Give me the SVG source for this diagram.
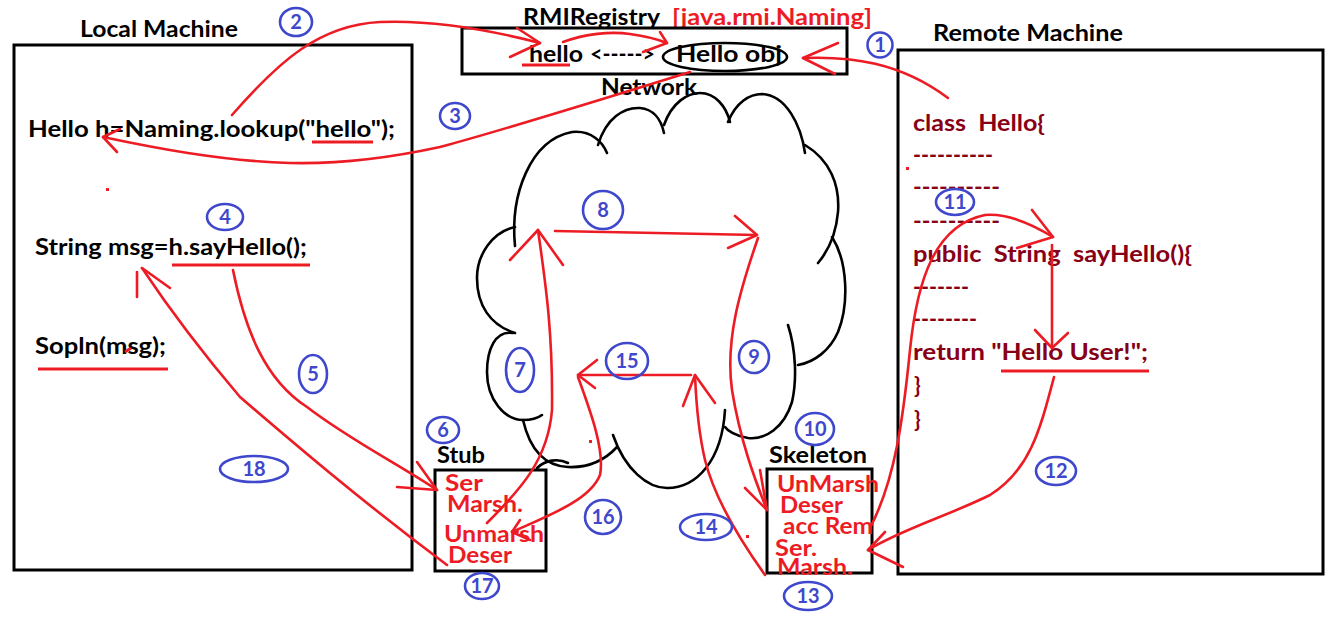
<svg xmlns="http://www.w3.org/2000/svg" width="1327" height="629" viewBox="0 0 1327 629">
<style>
  .box{fill:none;stroke:#000;stroke-width:3}
  .t{font-family:Lato,"Open Sans","Liberation Sans",sans-serif;font-weight:bold;font-size:22px;fill:#000;white-space:pre}
  .dr{fill:#880015}
  .rd{fill:#ED1C24}
  .ln{fill:none;stroke:#ED1C24;stroke-width:2.6;stroke-linecap:round;stroke-linejoin:round}
  .ul{stroke:#ED1C24;stroke-width:3}
  .cl{fill:none;stroke:#000;stroke-width:2.6;stroke-linecap:round}
  .num{fill:none;stroke:#3F48CC;stroke-width:2.6}
  .nt{font-family:Lato,"Open Sans","Liberation Sans",sans-serif;font-weight:bold;font-size:20px;fill:#3F48CC;text-anchor:middle}
</style>
<rect width="1327" height="629" fill="#fff"/>

<g id="local-machine">
  <rect class="box" x="14" y="45" width="398" height="525"/>
  <text class="t" x="80" y="37" textLength="158" lengthAdjust="spacingAndGlyphs">Local Machine</text>
  <text class="t" x="28" y="137" textLength="367" lengthAdjust="spacingAndGlyphs">Hello h=Naming.lookup("hello");</text>
  <text class="t" x="35" y="255" textLength="272" lengthAdjust="spacingAndGlyphs">String msg=h.sayHello();</text>
  <text class="t" x="35" y="354" textLength="131" lengthAdjust="spacingAndGlyphs">Sopln(msg);</text>
  <line class="ul" x1="312" y1="142" x2="373" y2="142"/>
  <line class="ul" x1="172" y1="265" x2="310" y2="265"/>
  <line class="ul" x1="38" y1="369" x2="168" y2="369"/>
  <rect x="106" y="188" width="3" height="3" fill="#ED1C24"/>
  <line class="ul" x1="125" y1="352" x2="131" y2="348" stroke-width="2"/>
</g>

<g id="registry">
  <text class="t" x="523" y="25" textLength="137" lengthAdjust="spacingAndGlyphs">RMIRegistry</text>
  <text class="t rd" x="672" y="25" textLength="200" lengthAdjust="spacingAndGlyphs">[java.rmi.Naming]</text>
  <rect class="box" x="462" y="28" width="385" height="46"/>
  <text class="t" x="529" y="62" textLength="54" lengthAdjust="spacingAndGlyphs">hello</text>
  <text class="t" x="590" y="62" textLength="65" lengthAdjust="spacingAndGlyphs">&lt;-----&gt;</text>
  <text class="t" x="676" y="62" textLength="106" lengthAdjust="spacingAndGlyphs">Hello obj</text>
  <ellipse cx="725" cy="57" rx="62" ry="14" fill="none" stroke="#000" stroke-width="2.6"/>
  <line class="ul" x1="522" y1="65" x2="570" y2="65"/>
</g>

<g id="network">
  <text class="t" x="601" y="95" textLength="96" lengthAdjust="spacingAndGlyphs">Network</text>
  <path class="cl" d="M515 246 C510 195 530 140 572 132 C592 130 603 143 607 153"/>
  <path class="cl" d="M598 145 C606 118 624 107 640 108 C653 109 661 119 664 133"/>
  <path class="cl" d="M664 125 C672 102 688 93 700 93 C715 93 726 106 730 122"/>
  <path class="cl" d="M728 122 C736 102 750 94 762 94 C786 95 801 125 805 153"/>
  <path class="cl" d="M805 145 C830 160 840 185 838 212 C836 235 829 250 818 263"/>
  <path class="cl" d="M832 237 C848 262 849 305 838 332 C830 350 815 362 798 365"/>
  <path class="cl" d="M788 325 C796 350 797 380 792 402 C784 428 765 440 748 438 C735 436 727 430 725 427"/>
  <path class="cl" d="M613 435 C625 470 648 488 667 488 C697 488 722 460 725 410"/>
  <path class="cl" d="M617 447 C605 460 590 468 568 467 C545 466 530 450 523 420"/>
  <path class="cl" d="M537 468 C545 460 558 458 568 463"/>
  <path class="cl" d="M513 333 C495 330 487 350 487 372 C487 400 505 420 523 420 C531 420 538 418 542 415"/>
  <path class="cl" d="M515 227 C492 232 477 255 477 278 C477 305 490 325 515 333"/>
</g>

<g id="remote-machine">
  <rect class="box" x="898" y="50" width="425" height="524"/>
  <text class="t" x="933" y="41" textLength="190" lengthAdjust="spacingAndGlyphs">Remote Machine</text>
  <text class="t dr" x="913" y="131" textLength="132" lengthAdjust="spacingAndGlyphs" xml:space="preserve">class  Hello{</text>
  <text class="t dr" x="913" y="163" textLength="80" lengthAdjust="spacingAndGlyphs">----------</text>
  <text class="t dr" x="913" y="195" textLength="87" lengthAdjust="spacingAndGlyphs">----------</text>
  <text class="t dr" x="913" y="229" textLength="87" lengthAdjust="spacingAndGlyphs">----------</text>
  <text class="t dr" x="913" y="262" textLength="279" lengthAdjust="spacingAndGlyphs" xml:space="preserve">public  String  sayHello(){</text>
  <text class="t dr" x="913" y="295" textLength="56" lengthAdjust="spacingAndGlyphs">-------</text>
  <text class="t dr" x="913" y="327" textLength="64" lengthAdjust="spacingAndGlyphs">--------</text>
  <text class="t dr" x="913" y="360" textLength="235" lengthAdjust="spacingAndGlyphs">return "Hello User!";</text>
  <text class="t dr" x="914" y="393">}</text>
  <text class="t dr" x="914" y="427">}</text>
  <line class="ul" x1="1001" y1="371" x2="1149" y2="371"/>
  <rect x="906" y="167" width="3" height="3" fill="#ED1C24"/>
</g>

<g id="stub">
  <text class="t" x="437" y="463" textLength="48" lengthAdjust="spacingAndGlyphs">Stub</text>
  <rect class="box" x="435" y="470" width="111" height="101"/>
  <text class="t rd" x="445" y="491" textLength="38" lengthAdjust="spacingAndGlyphs">Ser</text>
  <text class="t rd" x="447" y="512" textLength="76" lengthAdjust="spacingAndGlyphs">Marsh.</text>
  <text class="t rd" x="444" y="542" textLength="100" lengthAdjust="spacingAndGlyphs">Unmarsh</text>
  <text class="t rd" x="448" y="563" textLength="64" lengthAdjust="spacingAndGlyphs">Deser</text>
</g>

<g id="skeleton">
  <text class="t" x="769" y="463" textLength="98" lengthAdjust="spacingAndGlyphs">Skeleton</text>
  <rect class="box" x="767" y="469" width="105" height="104"/>
  <text class="t rd" x="777" y="492" textLength="102" lengthAdjust="spacingAndGlyphs">UnMarsh</text>
  <text class="t rd" x="780" y="513" textLength="63" lengthAdjust="spacingAndGlyphs">Deser</text>
  <text class="t rd" x="783" y="534" textLength="90" lengthAdjust="spacingAndGlyphs">acc Rem</text>
  <text class="t rd" x="775" y="556" textLength="42" lengthAdjust="spacingAndGlyphs">Ser.</text>
  <text class="t rd" x="777" y="575" textLength="76" lengthAdjust="spacingAndGlyphs">Marsh.</text>
</g>

<g id="connectors">
  <path class="ln" d="M948 98 C900 62 850 56 803 58"/>
  <polyline class="ln" points="838,43 803,58 835,74"/>
  <path class="ln" d="M232 115 C280 60 320 25 380 22 C430 20 490 30 540 43"/>
  <polyline class="ln" points="517,28 540,43 510,57"/>
  <path class="ln" d="M563 42 C585 34 610 31 630 34 C645 36 657 39 667 43"/>
  <polyline class="ln" points="660,32 667,43 643,52"/>
  <path class="ln" d="M690 72 C600 100 500 131 440 147 C380 160 330 164 290 163 C220 161 150 147 103 137"/>
  <polyline class="ln" points="120,129 103,137 117,152"/>
  <path class="ln" d="M233 270 C245 330 265 380 307 407 C350 440 400 465 437 490"/>
  <polyline class="ln" points="417,462 437,490 397,487"/>
  <path class="ln" d="M447 565 C360 500 290 440 240 397 C200 350 170 310 142 268"/>
  <polyline class="ln" points="170,288 142,268"/>
  <line class="ln" x1="137" y1="272" x2="137" y2="297"/>
  <path class="ln" d="M487 523 C520 490 548 460 552 410 C553 330 545 280 538 230"/>
  <polyline class="ln" points="510,260 538,230 563,265"/>
  <path class="ln" d="M555 231 L757 235"/>
  <polyline class="ln" points="735,216 757,235 728,248"/>
  <path class="ln" d="M758 238 C740 290 725 340 732 390 C740 440 755 480 767 510"/>
  <polyline class="ln" points="745,488 767,510 760,470"/>
  <path class="ln" d="M870 528 C895 480 903 420 910 350 C917 280 935 225 985 215 C1010 213 1035 226 1053 237"/>
  <polyline class="ln" points="1032,210 1053,237 1017,248"/>
  <path class="ln" d="M1052 245 L1052 348"/>
  <polyline class="ln" points="1035,330 1052,348 1068,333"/>
  <path class="ln" d="M1054 377 C1040 430 1030 470 990 495 C950 515 900 530 868 550"/>
  <polyline class="ln" points="885,532 868,550 903,567"/>
  <path class="ln" d="M765 575 C740 540 715 500 705 460 C698 430 696 400 695 375"/>
  <polyline class="ln" points="683,406 695,375 715,403"/>
  <path class="ln" d="M691 375 L578 375"/>
  <polyline class="ln" points="597,360 578,375 595,388"/>
  <path class="ln" d="M578 377 C590 410 605 450 600 475 C590 500 550 515 512 532"/>
  <polyline class="ln" points="520,520 512,532 530,540"/>
  <rect x="589" y="440" width="3" height="3" fill="#ED1C24"/>
  <rect x="746" y="535" width="3" height="3" fill="#ED1C24"/>
</g>

<g id="step-labels">
  <ellipse class="num" cx="880" cy="45" rx="12.5" ry="12.5"/><text class="nt" x="880" y="52">1</text>
  <ellipse class="num" cx="296" cy="22" rx="16" ry="14"/><text class="nt" x="296" y="29">2</text>
  <ellipse class="num" cx="455" cy="116" rx="15" ry="13"/><text class="nt" x="455" y="123">3</text>
  <ellipse class="num" cx="225" cy="217" rx="18" ry="13"/><text class="nt" x="225" y="224">4</text>
  <ellipse class="num" cx="313" cy="374" rx="14" ry="19"/><text class="nt" x="313" y="381">5</text>
  <ellipse class="num" cx="443" cy="430" rx="16" ry="13"/><text class="nt" x="443" y="437">6</text>
  <ellipse class="num" cx="520" cy="370" rx="14" ry="22"/><text class="nt" x="520" y="377">7</text>
  <ellipse class="num" cx="603" cy="210" rx="20" ry="19"/><text class="nt" x="603" y="217">8</text>
  <ellipse class="num" cx="754" cy="357" rx="15" ry="16"/><text class="nt" x="754" y="364">9</text>
  <ellipse class="num" cx="815" cy="429" rx="19" ry="16"/><text class="nt" x="815" y="436">10</text>
  <ellipse class="num" cx="955" cy="202" rx="19" ry="13"/><text class="nt" x="955" y="209">11</text>
  <ellipse class="num" cx="1056" cy="471" rx="20" ry="14"/><text class="nt" x="1056" y="478">12</text>
  <ellipse class="num" cx="808" cy="596" rx="24" ry="14"/><text class="nt" x="808" y="603">13</text>
  <ellipse class="num" cx="706" cy="527" rx="26" ry="13"/><text class="nt" x="706" y="534">14</text>
  <ellipse class="num" cx="627" cy="361" rx="21" ry="18"/><text class="nt" x="627" y="368">15</text>
  <ellipse class="num" cx="603" cy="517" rx="18" ry="17"/><text class="nt" x="603" y="524">16</text>
  <ellipse class="num" cx="482" cy="586" rx="17" ry="13"/><text class="nt" x="482" y="593">17</text>
  <ellipse class="num" cx="254" cy="469" rx="34" ry="13"/><text class="nt" x="254" y="476">18</text>
</g>
</svg>
